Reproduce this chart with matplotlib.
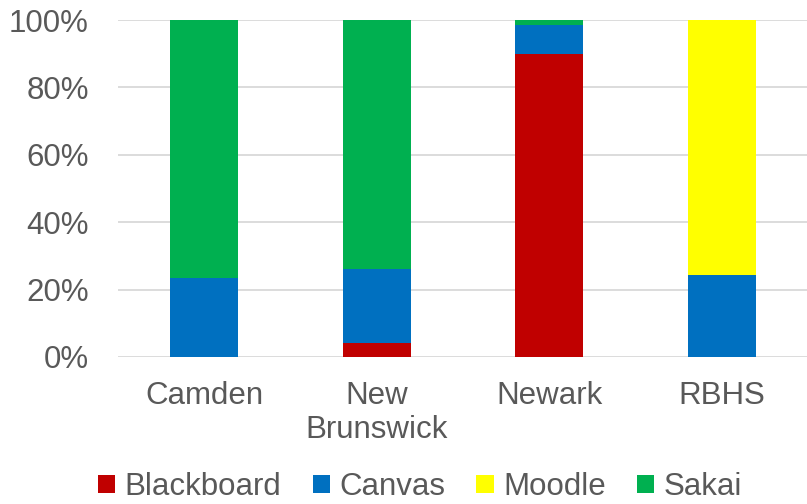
import matplotlib
matplotlib.use("Agg")
import matplotlib.pyplot as plt
import numpy as np

categories = ["Camden", "New\nBrunswick", "Newark", "RBHS"]
series_names = ["Blackboard", "Canvas", "Moodle", "Sakai"]
blackboard = [0.0, 4.1, 89.8, 0.0]
canvas = [23.4, 21.9, 8.8, 24.2]
moodle = [0.0, 0.0, 0.0, 75.8]
sakai = [76.6, 74.0, 1.4, 0.0]
colors = ["#C00000", "#0070C0", "#FFFF00", "#00B050"]
yticks = [0, 20, 40, 60, 80, 100]
ytick_labels = ["0%", "20%", "40%", "60%", "80%", "100%"]

plt.rcParams['font.family'] = ['Liberation Sans', 'DejaVu Sans']
fs = 22.5
txt = "#595959"

fig = plt.figure(figsize=(8.07, 5.04), dpi=100)
ax = fig.add_axes([118/807, 1 - 357/504, (808-118)/807, (357-20)/504])

x = np.arange(len(categories))
bottom = np.zeros(len(categories))
for name, vals, c in zip(series_names, [blackboard, canvas, moodle, sakai], colors):
    v = np.array(vals)
    ax.bar(x, v, width=0.395, bottom=bottom, color=c, label=name, zorder=3)
    bottom += v

ax.set_xlim(-0.5, 3.5)
ax.set_ylim(0, 100)
ax.set_yticks(yticks)
ax.set_yticklabels(ytick_labels)
ax.set_xticks(x)
ax.set_xticklabels(categories, linespacing=1.2)
ax.tick_params(axis='both', length=0, labelsize=fs, labelcolor=txt)
ax.tick_params(axis='y', pad=21)
ax.tick_params(axis='x', pad=17)
ax.grid(axis='y', color='#D9D9D9', linewidth=1.3, zorder=0)
for s in ax.spines.values():
    s.set_visible(False)

handles, labels = ax.get_legend_handles_labels()
fig.legend(handles, labels, loc='center', bbox_to_anchor=(420/807, 1 - 487/504),
           ncol=4, frameon=False, fontsize=fs, labelcolor=txt,
           handlelength=0.55, handleheight=0.55, handletextpad=0.3,
           columnspacing=1.0, borderpad=0)

fig.savefig("out.png", dpi=100)
